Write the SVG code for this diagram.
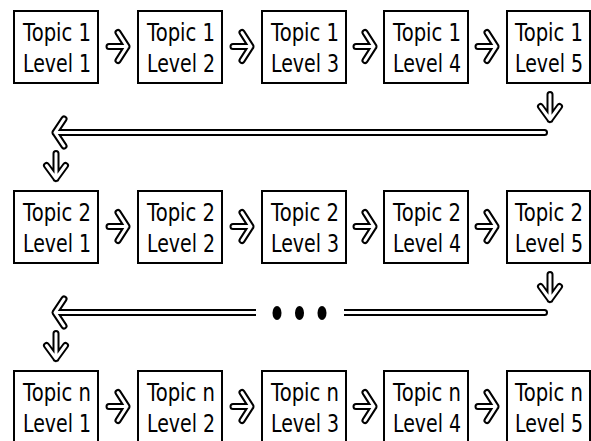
<svg xmlns="http://www.w3.org/2000/svg" xmlns:xlink="http://www.w3.org/1999/xlink" width="591" height="441" viewBox="0 0 591 441">
<style>
.box{fill:#fff;stroke:#000;stroke-width:2}
.t{font-family:"DejaVu Sans","Liberation Sans",sans-serif;font-size:25px;fill:#000;text-anchor:middle}
.ob{fill:none;stroke:#000;stroke-width:7;stroke-linecap:round;stroke-linejoin:round}
.iw{fill:none;stroke:#fff;stroke-width:3;stroke-linecap:round;stroke-linejoin:round}
.obb{fill:none;stroke:#000;stroke-width:7;stroke-linecap:butt}
.iwb{fill:none;stroke:#fff;stroke-width:3;stroke-linecap:butt}
.bar{fill:#fff;stroke:#000;stroke-width:2}
</style>
<defs>
<g id="ra"><path class="ob" d="M0,0 H18 M9,-14 L18,0 L9,14"/><path class="iw" d="M0,0 H18 M9,-14 L18,0 L9,14"/></g>
<g id="da"><path class="ob" d="M0,0 V25 M-9.5,12 L0,25 L9.5,12"/><path class="iw" d="M0,0 V25 M-9.5,12 L0,25 L9.5,12"/></g>
</defs>
<g id="connectors">
<use xlink:href="#ra" x="109" y="46.5"/>
<use xlink:href="#ra" x="233" y="46.5"/>
<use xlink:href="#ra" x="356" y="46.5"/>
<use xlink:href="#ra" x="478" y="46.5"/>
<use xlink:href="#da" x="550" y="94.5"/>
<path class="ob" d="M64,119 L55,132.5 L64,146 M55,132.5 H544.5"/>
<path class="iw" d="M64,119 L55,132.5 L64,146 M55,132.5 H544.5"/>
<use xlink:href="#da" x="56" y="153.5"/>
<use xlink:href="#ra" x="109" y="226.5"/>
<use xlink:href="#ra" x="233" y="226.5"/>
<use xlink:href="#ra" x="356" y="226.5"/>
<use xlink:href="#ra" x="478" y="226.5"/>
<use xlink:href="#da" x="550" y="274.5"/>
<path class="ob" d="M64,299 L55,312.5 L64,326"/>
<path class="obb" d="M55,312.5 H256"/>
<path class="iw" d="M64,299 L55,312.5 L64,326"/>
<path class="iwb" d="M55,312.5 H256"/>
<path class="bar" d="M344,310 H544.5 A2.5,2.5 0 0 1 544.5,315 H344"/>
<ellipse cx="277" cy="313" rx="4.5" ry="7"/>
<ellipse cx="299.5" cy="313" rx="4.5" ry="7"/>
<ellipse cx="322" cy="313" rx="4.5" ry="7"/>
<use xlink:href="#da" x="56" y="333.5"/>
<use xlink:href="#ra" x="109" y="406.5"/>
<use xlink:href="#ra" x="233" y="406.5"/>
<use xlink:href="#ra" x="356" y="406.5"/>
<use xlink:href="#ra" x="478" y="406.5"/>
</g>
<g id="t1l1"><rect class="box" x="14" y="11" width="84" height="72"/><text class="t" x="57" y="41" textLength="68" lengthAdjust="spacingAndGlyphs">Topic 1</text><text class="t" x="57" y="72" textLength="68" lengthAdjust="spacingAndGlyphs">Level 1</text></g>
<g id="t1l2"><rect class="box" x="138" y="11" width="84" height="72"/><text class="t" x="181" y="41" textLength="68" lengthAdjust="spacingAndGlyphs">Topic 1</text><text class="t" x="181" y="72" textLength="68" lengthAdjust="spacingAndGlyphs">Level 2</text></g>
<g id="t1l3"><rect class="box" x="262" y="11" width="84" height="72"/><text class="t" x="305" y="41" textLength="68" lengthAdjust="spacingAndGlyphs">Topic 1</text><text class="t" x="305" y="72" textLength="68" lengthAdjust="spacingAndGlyphs">Level 3</text></g>
<g id="t1l4"><rect class="box" x="384" y="11" width="84" height="72"/><text class="t" x="427" y="41" textLength="68" lengthAdjust="spacingAndGlyphs">Topic 1</text><text class="t" x="427" y="72" textLength="68" lengthAdjust="spacingAndGlyphs">Level 4</text></g>
<g id="t1l5"><rect class="box" x="507" y="11" width="83" height="72"/><text class="t" x="549" y="41" textLength="68" lengthAdjust="spacingAndGlyphs">Topic 1</text><text class="t" x="549" y="72" textLength="68" lengthAdjust="spacingAndGlyphs">Level 5</text></g>
<g id="t2l1"><rect class="box" x="14" y="191" width="84" height="72"/><text class="t" x="57" y="221" textLength="68" lengthAdjust="spacingAndGlyphs">Topic 2</text><text class="t" x="57" y="252" textLength="68" lengthAdjust="spacingAndGlyphs">Level 1</text></g>
<g id="t2l2"><rect class="box" x="138" y="191" width="84" height="72"/><text class="t" x="181" y="221" textLength="68" lengthAdjust="spacingAndGlyphs">Topic 2</text><text class="t" x="181" y="252" textLength="68" lengthAdjust="spacingAndGlyphs">Level 2</text></g>
<g id="t2l3"><rect class="box" x="262" y="191" width="84" height="72"/><text class="t" x="305" y="221" textLength="68" lengthAdjust="spacingAndGlyphs">Topic 2</text><text class="t" x="305" y="252" textLength="68" lengthAdjust="spacingAndGlyphs">Level 3</text></g>
<g id="t2l4"><rect class="box" x="384" y="191" width="84" height="72"/><text class="t" x="427" y="221" textLength="68" lengthAdjust="spacingAndGlyphs">Topic 2</text><text class="t" x="427" y="252" textLength="68" lengthAdjust="spacingAndGlyphs">Level 4</text></g>
<g id="t2l5"><rect class="box" x="507" y="191" width="83" height="72"/><text class="t" x="549" y="221" textLength="68" lengthAdjust="spacingAndGlyphs">Topic 2</text><text class="t" x="549" y="252" textLength="68" lengthAdjust="spacingAndGlyphs">Level 5</text></g>
<g id="tnl1"><rect class="box" x="14" y="371" width="84" height="72"/><text class="t" x="57" y="401" textLength="68" lengthAdjust="spacingAndGlyphs">Topic n</text><text class="t" x="57" y="432" textLength="68" lengthAdjust="spacingAndGlyphs">Level 1</text></g>
<g id="tnl2"><rect class="box" x="138" y="371" width="84" height="72"/><text class="t" x="181" y="401" textLength="68" lengthAdjust="spacingAndGlyphs">Topic n</text><text class="t" x="181" y="432" textLength="68" lengthAdjust="spacingAndGlyphs">Level 2</text></g>
<g id="tnl3"><rect class="box" x="262" y="371" width="84" height="72"/><text class="t" x="305" y="401" textLength="68" lengthAdjust="spacingAndGlyphs">Topic n</text><text class="t" x="305" y="432" textLength="68" lengthAdjust="spacingAndGlyphs">Level 3</text></g>
<g id="tnl4"><rect class="box" x="384" y="371" width="84" height="72"/><text class="t" x="427" y="401" textLength="68" lengthAdjust="spacingAndGlyphs">Topic n</text><text class="t" x="427" y="432" textLength="68" lengthAdjust="spacingAndGlyphs">Level 4</text></g>
<g id="tnl5"><rect class="box" x="507" y="371" width="83" height="72"/><text class="t" x="549" y="401" textLength="68" lengthAdjust="spacingAndGlyphs">Topic n</text><text class="t" x="549" y="432" textLength="68" lengthAdjust="spacingAndGlyphs">Level 5</text></g>
</svg>
